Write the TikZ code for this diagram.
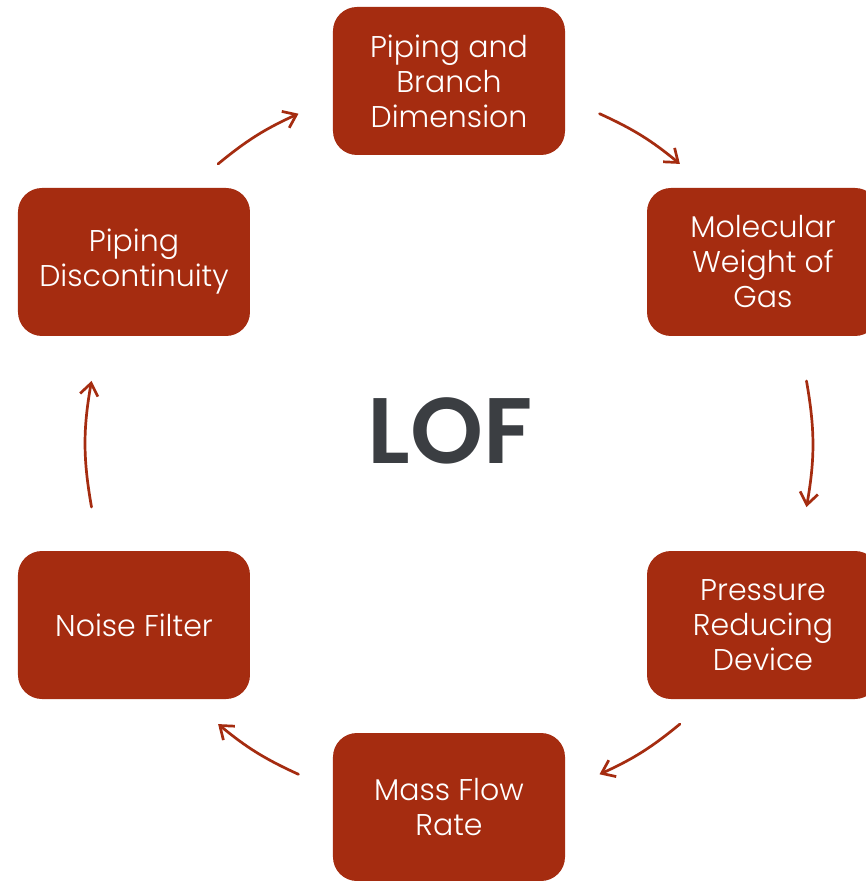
\documentclass[tikz,border=0pt]{standalone}
\usepackage{fontspec}
\setmainfont{Poppins Light}
\newfontfamily\lofface{Poppins SemiBold}
\usetikzlibrary{arrows.meta}
\definecolor{boxred}{HTML}{A52C10}
\definecolor{lofgray}{HTML}{3B3E42}
\begin{document}
\begin{tikzpicture}[x=1pt,y=1pt,
  stepbox/.style={fill=boxred, rounded corners=24pt, minimum width=232pt,
    minimum height=148pt, text=white, align=center,
    font=\fontsize{30}{35}\selectfont},
  flow/.style={draw=boxred, line width=2.7pt, line cap=round,
    -{Straight Barb[length=12pt,width=18pt,line width=2.7pt]}, bend left=7.5}]
  \useasboundingbox (-449,-437) rectangle (417,444);
  \fill[white] (-449,-437) rectangle (417,444);

  % process steps around the cycle
  \node[stepbox] (pipe)  at (0,363)     {Piping and\\Branch\\Dimension};
  \node[stepbox] (mol)   at (314,182)   {Molecular\\Weight of\\Gas};
  \node[stepbox] (press) at (314,-181)  {Pressure\\Reducing\\Device};
  \node[stepbox] (mass)  at (0,-363)    {Mass Flow\\Rate};
  \node[stepbox] (noise) at (-315,-181) {Noise Filter};
  \node[stepbox] (disc)  at (-315,182)  {Piping\\Discontinuity};

  % centre label
  \node[text=lofgray, font=\lofface\fontsize{93}{93}\selectfont] (lof) at (1,13) {LOF};

  % arc end points on a circle of radius 363 about the centre
  \def\R{363}
  \coordinate (a1s) at (129.5:\R); \coordinate (a1e) at (114.5:\R);
  \coordinate (a2s) at (65.5:\R);  \coordinate (a2e) at (50.5:\R);
  \coordinate (a3s) at (10:\R);    \coordinate (a3e) at (-10:\R);
  \coordinate (a4s) at (-50.5:\R); \coordinate (a4e) at (-65.5:\R);
  \coordinate (a5s) at (-114.5:\R);\coordinate (a5e) at (-129.5:\R);
  \coordinate (a6s) at (-170:\R);  \coordinate (a6e) at (170:\R);

  \draw[flow] (a1s) to (a1e);
  \draw[flow] (a2s) to (a2e);
  \draw[flow, bend left=10] (a3s) to (a3e);
  \draw[flow] (a4s) to (a4e);
  \draw[flow] (a5s) to (a5e);
  \draw[flow, bend left=10] (a6s) to (a6e);
\end{tikzpicture}
\end{document}
